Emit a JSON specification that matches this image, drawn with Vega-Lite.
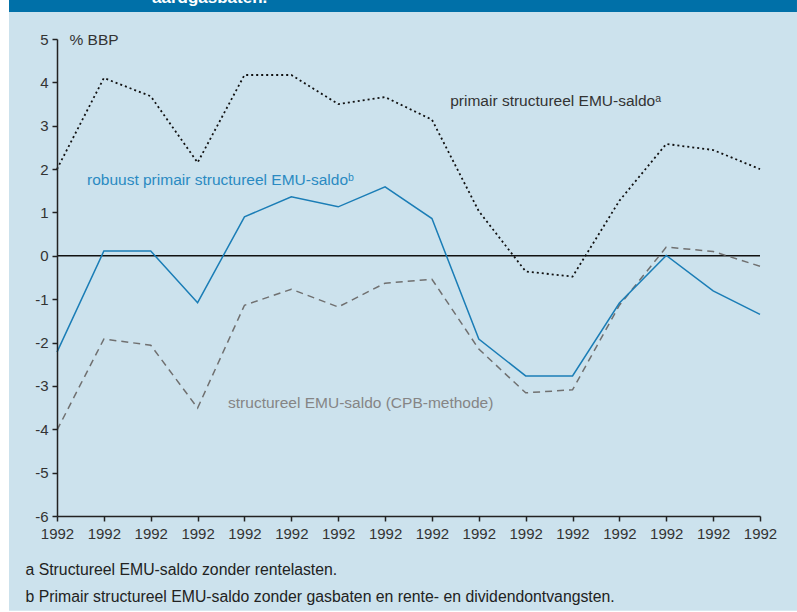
{
  "$schema": "https://vega.github.io/schema/vega-lite/v6.json",
  "background": "#FFFFFF",
  "autosize": "none",
  "padding": {"left": 57, "top": 39, "right": 37, "bottom": 96},
  "width": 703,
  "height": 477,
  "config": {
    "view": {"stroke": null},
    "font": "Liberation Sans",
    "axis": {"labelFont": "Liberation Sans", "titleFont": "Liberation Sans", "zindex": 1}
  },
  "data": {"values": [
    {"i": 0, "series": "primair", "v": 2.0},
    {"i": 1, "series": "primair", "v": 4.1},
    {"i": 2, "series": "primair", "v": 3.68},
    {"i": 3, "series": "primair", "v": 2.15},
    {"i": 4, "series": "primair", "v": 4.17},
    {"i": 5, "series": "primair", "v": 4.17},
    {"i": 6, "series": "primair", "v": 3.5},
    {"i": 7, "series": "primair", "v": 3.66},
    {"i": 8, "series": "primair", "v": 3.14},
    {"i": 9, "series": "primair", "v": 1.03},
    {"i": 10, "series": "primair", "v": -0.36},
    {"i": 11, "series": "primair", "v": -0.48},
    {"i": 12, "series": "primair", "v": 1.27},
    {"i": 13, "series": "primair", "v": 2.58},
    {"i": 14, "series": "primair", "v": 2.44},
    {"i": 15, "series": "primair", "v": 2.0},
    {"i": 0, "series": "robuust", "v": -2.22},
    {"i": 1, "series": "robuust", "v": 0.11},
    {"i": 2, "series": "robuust", "v": 0.11},
    {"i": 3, "series": "robuust", "v": -1.08},
    {"i": 4, "series": "robuust", "v": 0.9},
    {"i": 5, "series": "robuust", "v": 1.36},
    {"i": 6, "series": "robuust", "v": 1.13},
    {"i": 7, "series": "robuust", "v": 1.59},
    {"i": 8, "series": "robuust", "v": 0.86},
    {"i": 9, "series": "robuust", "v": -1.92},
    {"i": 10, "series": "robuust", "v": -2.77},
    {"i": 11, "series": "robuust", "v": -2.77},
    {"i": 12, "series": "robuust", "v": -1.09},
    {"i": 13, "series": "robuust", "v": 0.01},
    {"i": 14, "series": "robuust", "v": -0.81},
    {"i": 15, "series": "robuust", "v": -1.35},
    {"i": 0, "series": "cpb", "v": -4.02},
    {"i": 1, "series": "cpb", "v": -1.92},
    {"i": 2, "series": "cpb", "v": -2.06},
    {"i": 3, "series": "cpb", "v": -3.51},
    {"i": 4, "series": "cpb", "v": -1.14},
    {"i": 5, "series": "cpb", "v": -0.77},
    {"i": 6, "series": "cpb", "v": -1.18},
    {"i": 7, "series": "cpb", "v": -0.63},
    {"i": 8, "series": "cpb", "v": -0.54},
    {"i": 9, "series": "cpb", "v": -2.15},
    {"i": 10, "series": "cpb", "v": -3.16},
    {"i": 11, "series": "cpb", "v": -3.09},
    {"i": 12, "series": "cpb", "v": -1.14},
    {"i": 13, "series": "cpb", "v": 0.2},
    {"i": 14, "series": "cpb", "v": 0.1},
    {"i": 15, "series": "cpb", "v": -0.24}
  ]},
  "layer": [
    {
      "data": {"values": [{"part": "panel"}]},
      "mark": {"type": "rect", "color": "#CCE2ED"},
      "encoding": {
        "x": {
          "datum": -1.024, "type": "quantitative",
          "scale": {"domain": [0, 15], "nice": false, "zero": false},
          "axis": {
            "zindex": 1,
            "values": [0,1,2,3,4,5,6,7,8,9,10,11,12,13,14,15],
            "labelExpr": "'1992'",
            "labelOverlap": false, "labelFlush": false, "labelBound": false,
            "grid": false,
            "domainColor": "#222", "tickColor": "#222", "domainWidth": 1.5, "tickWidth": 1.5,
            "tickSize": 5, "labelFontSize": 15, "labelColor": "#333", "labelPadding": 5,
            "title": ["a Structureel EMU-saldo zonder rentelasten.", "b Primair structureel EMU-saldo zonder gasbaten en rente- en dividendontvangsten."],
            "titleX": -32, "titleY": 58, "titleAlign": "left", "titleAnchor": "start",
            "titleBaseline": "alphabetic", "titleLineHeight": 27,
            "titleFontWeight": "normal", "titleFontSize": 15.8, "titleColor": "#222"
          }
        },
        "x2": {"datum": 15.789},
        "y": {
          "datum": 5.6226, "type": "quantitative",
          "scale": {"domain": [-6, 5], "nice": false},
          "axis": {
            "zindex": 1,
            "values": [-6,-5,-4,-3,-2,-1,0,1,2,3,4,5],
            "labelExpr": "'' + datum.value",
            "grid": false,
            "domainColor": "#222", "tickColor": "#222", "domainWidth": 1.5, "tickWidth": 1.5,
            "tickSize": 5, "labelFontSize": 15, "labelColor": "#333", "labelPadding": 4,
            "title": "% BBP", "titleAngle": 0, "titleX": 12, "titleY": 0,
            "titleAlign": "left", "titleBaseline": "middle",
            "titleFontWeight": "normal", "titleFontSize": 15.5, "titleColor": "#333"
          }
        },
        "y2": {"datum": -8.184}
      }
    },
    {
      "data": {"values": [{"part": "header"}]},
      "mark": {"type": "rect", "color": "#0070A8"},
      "encoding": {
        "x": {"datum": -1.024, "type": "quantitative"},
        "x2": {"datum": 15.789},
        "y": {"datum": 5.95, "type": "quantitative"},
        "y2": {"datum": 5.6226}
      }
    },
    {
      "data": {"values": [{"label": "aardgasbaten."}]},
      "mark": {"type": "text", "align": "left", "baseline": "alphabetic", "fontSize": 17, "fontWeight": "bold", "color": "#FFFFFF", "font": "Liberation Sans"},
      "encoding": {"x": {"datum": 2.027, "type": "quantitative"}, "y": {"datum": 5.82, "type": "quantitative"}, "text": {"field": "label"}}
    },
    {
      "data": {"values": [{"z": 0}]},
      "mark": {"type": "rule", "color": "#111", "strokeWidth": 1.5},
      "encoding": {"y": {"field": "z", "type": "quantitative"}}
    },
    {
      "transform": [{"filter": "datum.series === 'cpb'"}],
      "mark": {"type": "line", "color": "#707070", "strokeWidth": 1.5, "strokeDash": [7, 5]},
      "encoding": {"x": {"field": "i", "type": "quantitative"}, "y": {"field": "v", "type": "quantitative"}}
    },
    {
      "transform": [{"filter": "datum.series === 'primair'"}],
      "mark": {"type": "line", "color": "#111", "strokeWidth": 1.8, "strokeDash": [2, 3]},
      "encoding": {"x": {"field": "i", "type": "quantitative"}, "y": {"field": "v", "type": "quantitative"}}
    },
    {
      "transform": [{"filter": "datum.series === 'robuust'"}],
      "mark": {"type": "line", "color": "#1A7DB6", "strokeWidth": 1.5},
      "encoding": {"x": {"field": "i", "type": "quantitative"}, "y": {"field": "v", "type": "quantitative"}}
    },
    {
      "data": {"values": [{"label": "primair structureel EMU-saldoᵃ"}]},
      "mark": {"type": "text", "align": "left", "baseline": "middle", "fontSize": 15.5, "color": "#333", "font": "Liberation Sans"},
      "encoding": {"x": {"datum": 8.39, "type": "quantitative"}, "y": {"datum": 3.57, "type": "quantitative"}, "text": {"field": "label"}}
    },
    {
      "data": {"values": [{"label": "robuust primair structureel EMU-saldoᵇ"}]},
      "mark": {"type": "text", "align": "left", "baseline": "middle", "fontSize": 15.5, "color": "#2A8AC2", "font": "Liberation Sans"},
      "encoding": {"x": {"datum": 0.64, "type": "quantitative"}, "y": {"datum": 1.74, "type": "quantitative"}, "text": {"field": "label"}}
    },
    {
      "data": {"values": [{"label": "structureel EMU-saldo (CPB-methode)"}]},
      "mark": {"type": "text", "align": "left", "baseline": "middle", "fontSize": 15.5, "color": "#858585", "font": "Liberation Sans"},
      "encoding": {"x": {"datum": 3.65, "type": "quantitative"}, "y": {"datum": -3.39, "type": "quantitative"}, "text": {"field": "label"}}
    }
  ]
}
